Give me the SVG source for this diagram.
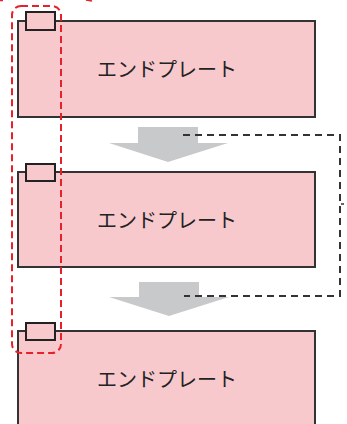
<svg xmlns="http://www.w3.org/2000/svg" width="347" height="424" viewBox="0 0 347 424">
<style>
.plate{fill:#f8c9cc;stroke:#333;stroke-width:2}
.tab{fill:#f8c9cc;stroke:#222;stroke-width:2}
.lbl{font-family:"Noto Sans CJK JP","Noto Sans",sans-serif;font-size:20px;fill:#222;text-anchor:middle}
.flow{fill:#c8c9cb}
.dash{fill:none;stroke:#333;stroke-width:2;stroke-dasharray:7 5}
.hl{fill:none;stroke:#e8202a;stroke-width:2;stroke-dasharray:7 4}
</style>
<rect width="347" height="424" fill="#fff"/>
<g id="plate1">
<rect class="plate" x="18" y="21" width="297" height="96"/>
<rect class="tab" x="26" y="12" width="29" height="18"/>
<text class="lbl" x="167" y="77">エンドプレート</text>
</g>
<g id="plate2">
<rect class="plate" x="18" y="172" width="297" height="95"/>
<rect class="tab" x="26" y="164" width="29" height="17"/>
<text class="lbl" x="167" y="228">エンドプレート</text>
</g>
<g id="plate3">
<rect class="plate" x="18" y="331" width="297" height="100"/>
<rect class="tab" x="26" y="323" width="29" height="17"/>
<text class="lbl" x="167" y="387">エンドプレート</text>
</g>
<g id="flow-arrows">
<polygon class="flow" points="138,127 198,127 198,143 228,143 168,162 109,143 138,143"/>
<polygon class="flow" points="139,282 199,282 199,297 229,297 169,316 109,297 139,297"/>
</g>
<g id="connectors">
<path class="dash" d="M183,135 H340 V296 H184"/>
<path d="M341,204 H344" stroke="#333" stroke-width="1.5"/>
</g>
<g id="highlight">
<rect class="hl" x="12" y="6" width="49" height="347" rx="9"/>
<path d="M0,0.5 H3 M86,0 L92,1" stroke="#e8202a" stroke-width="1.5"/>
</g>
</svg>
